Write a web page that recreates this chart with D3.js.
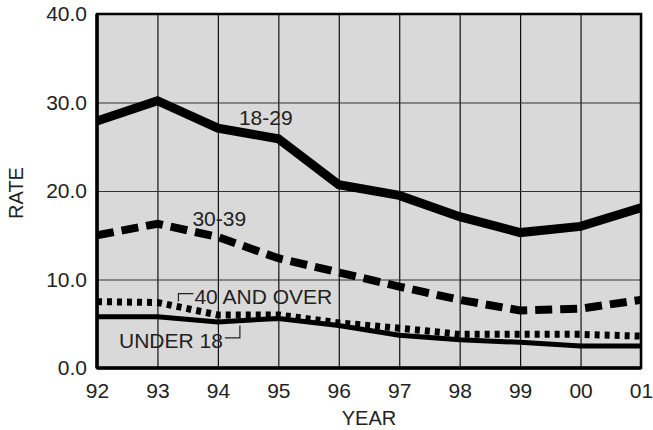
<!DOCTYPE html>
<html>
<head>
<meta charset="utf-8">
<script src="https://d3js.org/d3.v7.min.js"></script>
<style>
    body { margin: 0; background: #fff; }
    text { font-family: "Liberation Sans", Arial, sans-serif; fill: #222; }
</style>
</head>
<body>
<div id="chart"></div>
<script>
// Chart data
var years = ["92", "93", "94", "95", "96", "97", "98", "99", "00", "01"];
var rate1829 = [27.9, 30.2, 27.1, 25.9, 20.7, 19.5, 17.1, 15.3, 16.0, 18.1];
var rate3039 = [15.0, 16.3, 14.8, 12.4, 10.8, 9.2, 7.7, 6.5, 6.7, 7.7];
var rate40Over = [7.5, 7.4, 6.0, 6.0, 5.1, 4.5, 3.8, 3.8, 3.8, 3.6];
var rateUnder18 = [5.8, 5.8, 5.2, 5.6, 4.8, 3.7, 3.2, 2.9, 2.5, 2.5];
var yTicks = [0, 10, 20, 30, 40];

// SVG area and margins
var svgWidth = 653;
var svgHeight = 430;

var chartMargin = {
    top: 14,
    right: 12,
    bottom: 62,
    left: 97
};

var chartWidth = svgWidth - chartMargin.left - chartMargin.right;
var chartHeight = svgHeight - chartMargin.top - chartMargin.bottom;

var svg = d3.select("#chart")
    .append("svg")
    .attr("width", svgWidth)
    .attr("height", svgHeight);

var chartGroup = svg.append("g")
    .attr("transform", `translate(${chartMargin.left}, ${chartMargin.top})`);

// Scales
var xScale = d3.scalePoint()
    .domain(years)
    .range([0, chartWidth]);

var yScale = d3.scaleLinear()
    .domain([0, 40])
    .range([chartHeight, 0]);

// Gray plot background
chartGroup.append("rect")
    .attr("width", chartWidth)
    .attr("height", chartHeight)
    .attr("fill", "#d9d9d9");

// Grid lines
chartGroup.append("g")
    .attr("class", "grid")
    .attr("transform", `translate(0, ${chartHeight})`)
    .call(d3.axisBottom(xScale).tickSize(-chartHeight).tickFormat("").tickSizeOuter(0))
    .call(g => g.select(".domain").remove())
    .selectAll("line")
    .attr("stroke", "#111")
    .attr("stroke-width", 1.2);

chartGroup.append("g")
    .attr("class", "grid")
    .call(d3.axisLeft(yScale).tickValues(yTicks).tickSize(-chartWidth).tickFormat("").tickSizeOuter(0))
    .call(g => g.select(".domain").remove())
    .selectAll("line")
    .attr("stroke", "#333")
    .attr("stroke-width", 1.2);

// Lines
var line = d3.line()
    .x((d, i) => xScale(years[i]))
    .y(d => yScale(d));

var series = [
    { values: rate1829, width: 9, dash: null },
    { values: rate3039, width: 8, dash: "17,8" },
    { values: rate40Over, width: 7, dash: "5,5" },
    { values: rateUnder18, width: 5, dash: null }
];

series.forEach(function (s) {
    chartGroup.append("path")
        .datum(s.values)
        .attr("d", line)
        .attr("fill", "none")
        .attr("stroke", "#000")
        .attr("stroke-width", s.width)
        .attr("stroke-linejoin", "miter")
        .attr("stroke-dasharray", s.dash);
});

// Frame around the plot
chartGroup.append("rect")
    .attr("width", chartWidth)
    .attr("height", chartHeight)
    .attr("fill", "none")
    .attr("stroke", "#000")
    .attr("stroke-width", 2.5);

chartGroup.append("line")
    .attr("x1", 0).attr("x2", 0)
    .attr("y1", 0).attr("y2", chartHeight)
    .attr("stroke", "#000")
    .attr("stroke-width", 3.5);

chartGroup.append("line")
    .attr("x1", 0).attr("x2", chartWidth)
    .attr("y1", chartHeight).attr("y2", chartHeight)
    .attr("stroke", "#000")
    .attr("stroke-width", 3.5);

// Axes (labels only)
var bottomAxis = d3.axisBottom(xScale).tickSize(0).tickPadding(15);
var leftAxis = d3.axisLeft(yScale).tickValues(yTicks).tickSize(0).tickPadding(10)
    .tickFormat(d3.format(".1f"));

chartGroup.append("g")
    .attr("transform", `translate(0, ${chartHeight})`)
    .call(bottomAxis)
    .call(g => g.select(".domain").remove())
    .selectAll("text")
    .attr("font-size", 21)
    .attr("font-family", "Liberation Sans, Arial, sans-serif")
    .attr("fill", "#222");

chartGroup.append("g")
    .call(leftAxis)
    .call(g => g.select(".domain").remove())
    .selectAll("text")
    .attr("font-size", 21)
    .attr("font-family", "Liberation Sans, Arial, sans-serif")
    .attr("fill", "#222");

// Axis titles
chartGroup.append("text")
    .attr("transform", `translate(${-chartMargin.left + 23}, ${chartHeight / 2 + 2}) rotate(-90)`)
    .attr("text-anchor", "middle")
    .attr("font-size", 20)
    .text("RATE");

chartGroup.append("text")
    .attr("x", chartWidth / 2)
    .attr("y", chartHeight + 57)
    .attr("text-anchor", "middle")
    .attr("font-size", 20)
    .text("YEAR");

// Series labels
chartGroup.append("text")
    .attr("x", xScale("94") + 21)
    .attr("y", yScale(27.5))
    .attr("font-size", 21)
    .text("18-29");

chartGroup.append("text")
    .attr("x", xScale("93") + 35)
    .attr("y", yScale(16.0))
    .attr("font-size", 21)
    .text("30-39");

chartGroup.append("text")
    .attr("x", xScale("93") + 37)
    .attr("y", yScale(7.4) + 1)
    .attr("font-size", 21)
    .text("40 AND OVER");

chartGroup.append("polyline")
    .attr("points", [
        [xScale("93") + 21, yScale(7.4) - 1],
        [xScale("93") + 21, yScale(8.4)],
        [xScale("93") + 36, yScale(8.4)]
    ].join(" "))
    .attr("fill", "none")
    .attr("stroke", "#222")
    .attr("stroke-width", 1.2);

chartGroup.append("text")
    .attr("x", xScale("92") + 22)
    .attr("y", yScale(2.3))
    .attr("font-size", 21)
    .text("UNDER 18");

chartGroup.append("polyline")
    .attr("points", [
        [xScale("94") + 7, yScale(3.4)],
        [xScale("94") + 22, yScale(3.4)],
        [xScale("94") + 22, yScale(4.8)]
    ].join(" "))
    .attr("fill", "none")
    .attr("stroke", "#222")
    .attr("stroke-width", 1.2);
</script>
</body>
</html>
